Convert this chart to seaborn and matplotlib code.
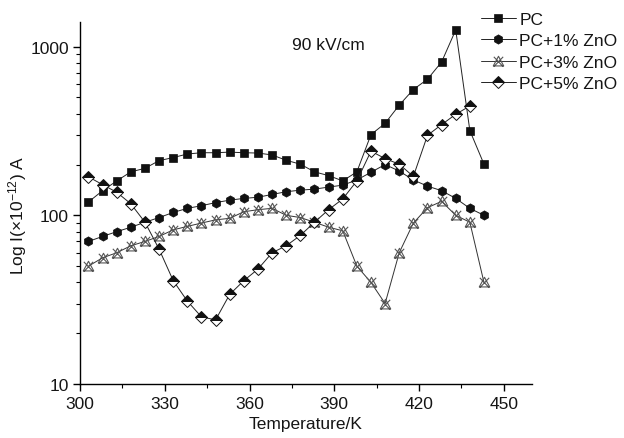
import numpy as np
import pandas as pd
import matplotlib
matplotlib.use("Agg")
import matplotlib.pyplot as plt
from matplotlib.path import Path
from matplotlib.ticker import LogLocator, NullFormatter, FixedLocator
import seaborn as sns

# ---- data ----
temps = [303, 308, 313, 318, 323, 328, 333, 338, 343, 348, 353, 358, 363, 368,
         373, 378, 383, 388, 393, 398, 403, 408, 413, 418, 423, 428, 433, 438, 443]

pc = [120, 140, 160, 181, 190, 211, 220, 231, 235, 235, 237, 235, 234, 228,
      212, 201, 181, 172, 160, 181, 301, 351, 450, 557, 641, 811, 1256, 318, 201]

pc1 = [70, 75, 80, 85, 91, 97, 104, 110, 114, 119, 123, 126, 128, 133,
       138, 141, 143, 147, 151, 162, 180, 200, 183, 162, 149, 140, 126, 110, 100]

pc3 = [50, 56, 60, 66, 70, 75, 82, 86, 90, 94, 96, 105, 108, 110,
       100, 97, 91, 85, 81, 50, 40, 30, 60, 90, 111, 121, 100, 91, 40]

pc5 = [169, 152, 137, 117, 91, 63, 41, 31, 25, 24, 34, 41, 48, 60,
       66, 76, 91, 108, 125, 160, 240, 217, 201, 170, 298, 345, 397, 445]

labels = ["PC", "PC+1% ZnO", "PC+3% ZnO", "PC+5% ZnO"]
x_ticks = [300, 330, 360, 390, 420, 450]
y_ticks = [10, 100, 1000]
annotation = "90 kV/cm"
x_label = "Temperature/K"
y_label = "Log I(\u00d710$^{\u221212}$) A"

# ---- style ----
sns.set_theme(style="white")
plt.rcParams["font.family"] = ["Liberation Sans", "DejaVu Sans"]
plt.rcParams["mathtext.fontset"] = "custom"
plt.rcParams["mathtext.rm"] = "Liberation Sans"
plt.rcParams["mathtext.it"] = "Liberation Sans"
plt.rcParams["mathtext.default"] = "regular"

FS = 12.5
TXT = "#151515"

# custom marker: triangle with an X through it
tri_x = Path(
    [(-1.0, -0.85), (0.0, 1.0), (1.0, -0.85), (-1.0, -0.85),
     (-0.9, 0.9), (0.9, -1.0),
     (0.9, 0.9), (-0.9, -1.0)],
    [Path.MOVETO, Path.LINETO, Path.LINETO, Path.CLOSEPOLY,
     Path.MOVETO, Path.LINETO,
     Path.MOVETO, Path.LINETO])

fig = plt.figure(figsize=(6.24, 4.39), dpi=100)
ax = fig.add_axes([80 / 624, 1 - 385 / 439, 452 / 624, 362 / 439])

df_pc = pd.DataFrame({"T": temps, "I": pc})
df_pc1 = pd.DataFrame({"T": temps, "I": pc1})
df_pc3 = pd.DataFrame({"T": temps, "I": pc3})
df_pc5 = pd.DataFrame({"T": temps[:len(pc5)], "I": pc5})

lw = 0.7
sns.lineplot(data=df_pc, x="T", y="I", ax=ax, color="#222222", lw=lw,
             marker="s", markersize=5.4, markerfacecolor="#111111",
             markeredgecolor="#111111", markeredgewidth=0.5, label=labels[0])
sns.lineplot(data=df_pc1, x="T", y="I", ax=ax, color="#222222", lw=lw,
             marker="h", markersize=6.7, markerfacecolor="#111111",
             markeredgecolor="#111111", markeredgewidth=0.5, label=labels[1])
sns.lineplot(data=df_pc3, x="T", y="I", ax=ax, color="#333333", lw=lw,
             marker=tri_x, markersize=7.5, markerfacecolor="none",
             markeredgecolor="#555555", markeredgewidth=0.8, label=labels[2])
sns.lineplot(data=df_pc5, x="T", y="I", ax=ax, color="#222222", lw=lw,
             marker="D", markersize=5.7, markerfacecolor="#111111",
             fillstyle="top", markerfacecoloralt="white",
             markeredgecolor="#111111", markeredgewidth=0.7, label=labels[3])

ax.set_yscale("log")
ax.set_xlim(300, 460)
ax.set_ylim(10, 1400)

ax.xaxis.set_major_locator(FixedLocator(x_ticks))
ax.xaxis.set_minor_locator(FixedLocator([315, 345, 375, 405, 435]))
ax.yaxis.set_major_locator(FixedLocator(y_ticks))
ax.yaxis.set_minor_locator(LogLocator(base=10, subs=np.arange(2, 10)))
ax.yaxis.set_minor_formatter(NullFormatter())
ax.set_yticklabels([str(v) for v in y_ticks])
ax.set_xticklabels([str(v) for v in x_ticks])

for s in ["top", "right"]:
    ax.spines[s].set_visible(False)
for s in ["left", "bottom"]:
    ax.spines[s].set_color("black")
    ax.spines[s].set_linewidth(1.0)

ax.tick_params(axis="x", which="major", pad=4)
ax.tick_params(axis="y", which="major", pad=3)
ax.tick_params(axis="both", which="major", direction="out", length=5, width=1.0,
               color="black", labelsize=FS, labelcolor=TXT, bottom=True, left=True)
ax.tick_params(axis="both", which="minor", direction="out", length=3, width=0.8,
               color="black", bottom=True, left=True)

ax.set_xlabel(x_label, fontsize=FS, labelpad=3, color=TXT)
ax.set_ylabel(y_label, fontsize=FS, color=TXT)
ax.yaxis.set_label_coords(-0.112, 0.47)

ax.text(388, 1030, annotation, fontsize=FS, ha="center", va="center",
        transform=ax.transData, color=TXT)

leg = ax.legend(loc="upper left", bbox_to_anchor=(481 / 624, 1 - 13 / 439),
                bbox_transform=fig.transFigure, frameon=False, fontsize=FS,
                handlelength=2.0, handletextpad=0.2, labelspacing=0.35,
                borderpad=0, borderaxespad=0)
for t in leg.get_texts():
    t.set_color(TXT)

fig.savefig("out.png", dpi=100)
